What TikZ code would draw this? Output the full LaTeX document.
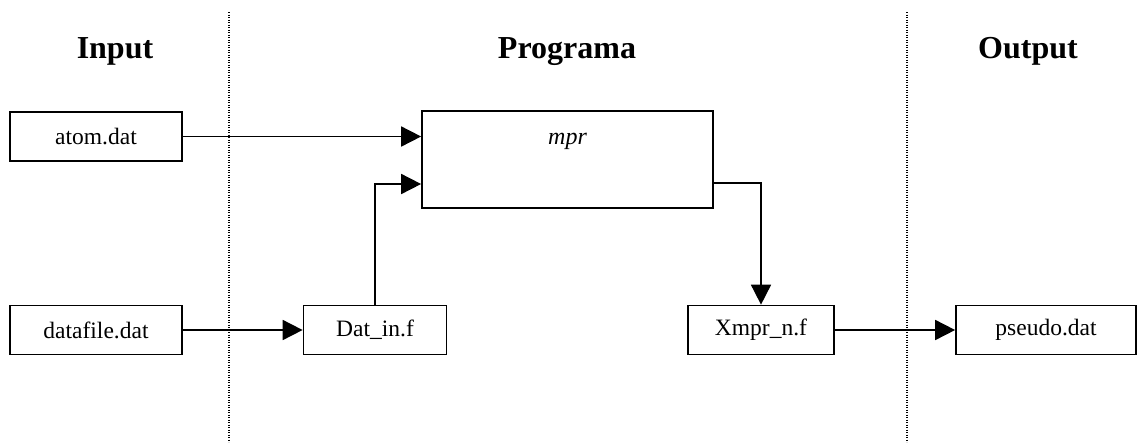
\documentclass[tikz,border=0pt]{standalone}
\usepackage{fontspec}
\setmainfont{Liberation Serif}
\usetikzlibrary{arrows.meta,calc}
\begin{document}
\begin{tikzpicture}[x=1pt,y=-1pt,
  box/.style={draw,line width=1.7pt,inner sep=0pt,font=\fontsize{23.5}{27}\selectfont},
  title/.style={anchor=base,font=\fontsize{32}{38}\selectfont\bfseries},
  arr/.style={line width=1.7pt,-{Triangle[length=20pt,width=20pt]}},
  sep/.style={line width=1.4pt,dash pattern=on 1.2pt off 1.3pt}]
\useasboundingbox (0,0) rectangle (1139,442);
\fill[white] (0,0) rectangle (1139,442);
% titles
\node[title] (tin) at (115,58) {Input};
\node[title] (tprog) at (567,58) {Programa};
\node[title] (tout) at (1028,58) {Output};
% separators
\draw[sep] (229,12) -- (229,442);
\draw[sep] (907,12) -- (907,442);
% boxes
\node[box,minimum width=172pt,minimum height=49pt] (atom) at (96,136.5) {atom.dat};
\node[box,minimum width=172pt,minimum height=49pt] (datafile) at (96,330) {datafile.dat};
\node[box,minimum width=143pt,minimum height=49pt] (datin) at (375,330) {Dat\_in.f};
\node[box,minimum width=291pt,minimum height=97pt] (mpr) at (567.5,159.5) {};
\node[anchor=base,font=\fontsize{24}{27}\selectfont\itshape] (mprtext) at (567.5,144) {mpr};
\node[box,minimum width=146pt,minimum height=49pt] (xmpr) at (761,330) {Xmpr\_n.f};
\node[box,minimum width=180pt,minimum height=49pt] (pseudo) at (1046,330) {pseudo.dat};
% connectors
\coordinate (min2) at ($(mpr.west)+(0,24.5)$);
\coordinate (mout) at ($(mpr.east)+(0,23.5)$);
\draw[arr] (atom.east) -- (atom.east -| mpr.west);
\draw[arr] (datafile.east) -- (datin.west);
\draw[arr] (datin.north) |- (min2);
\draw[arr] (mout) -| (xmpr.north);
\draw[arr] (xmpr.east) -- (pseudo.west);
\end{tikzpicture}
\end{document}
